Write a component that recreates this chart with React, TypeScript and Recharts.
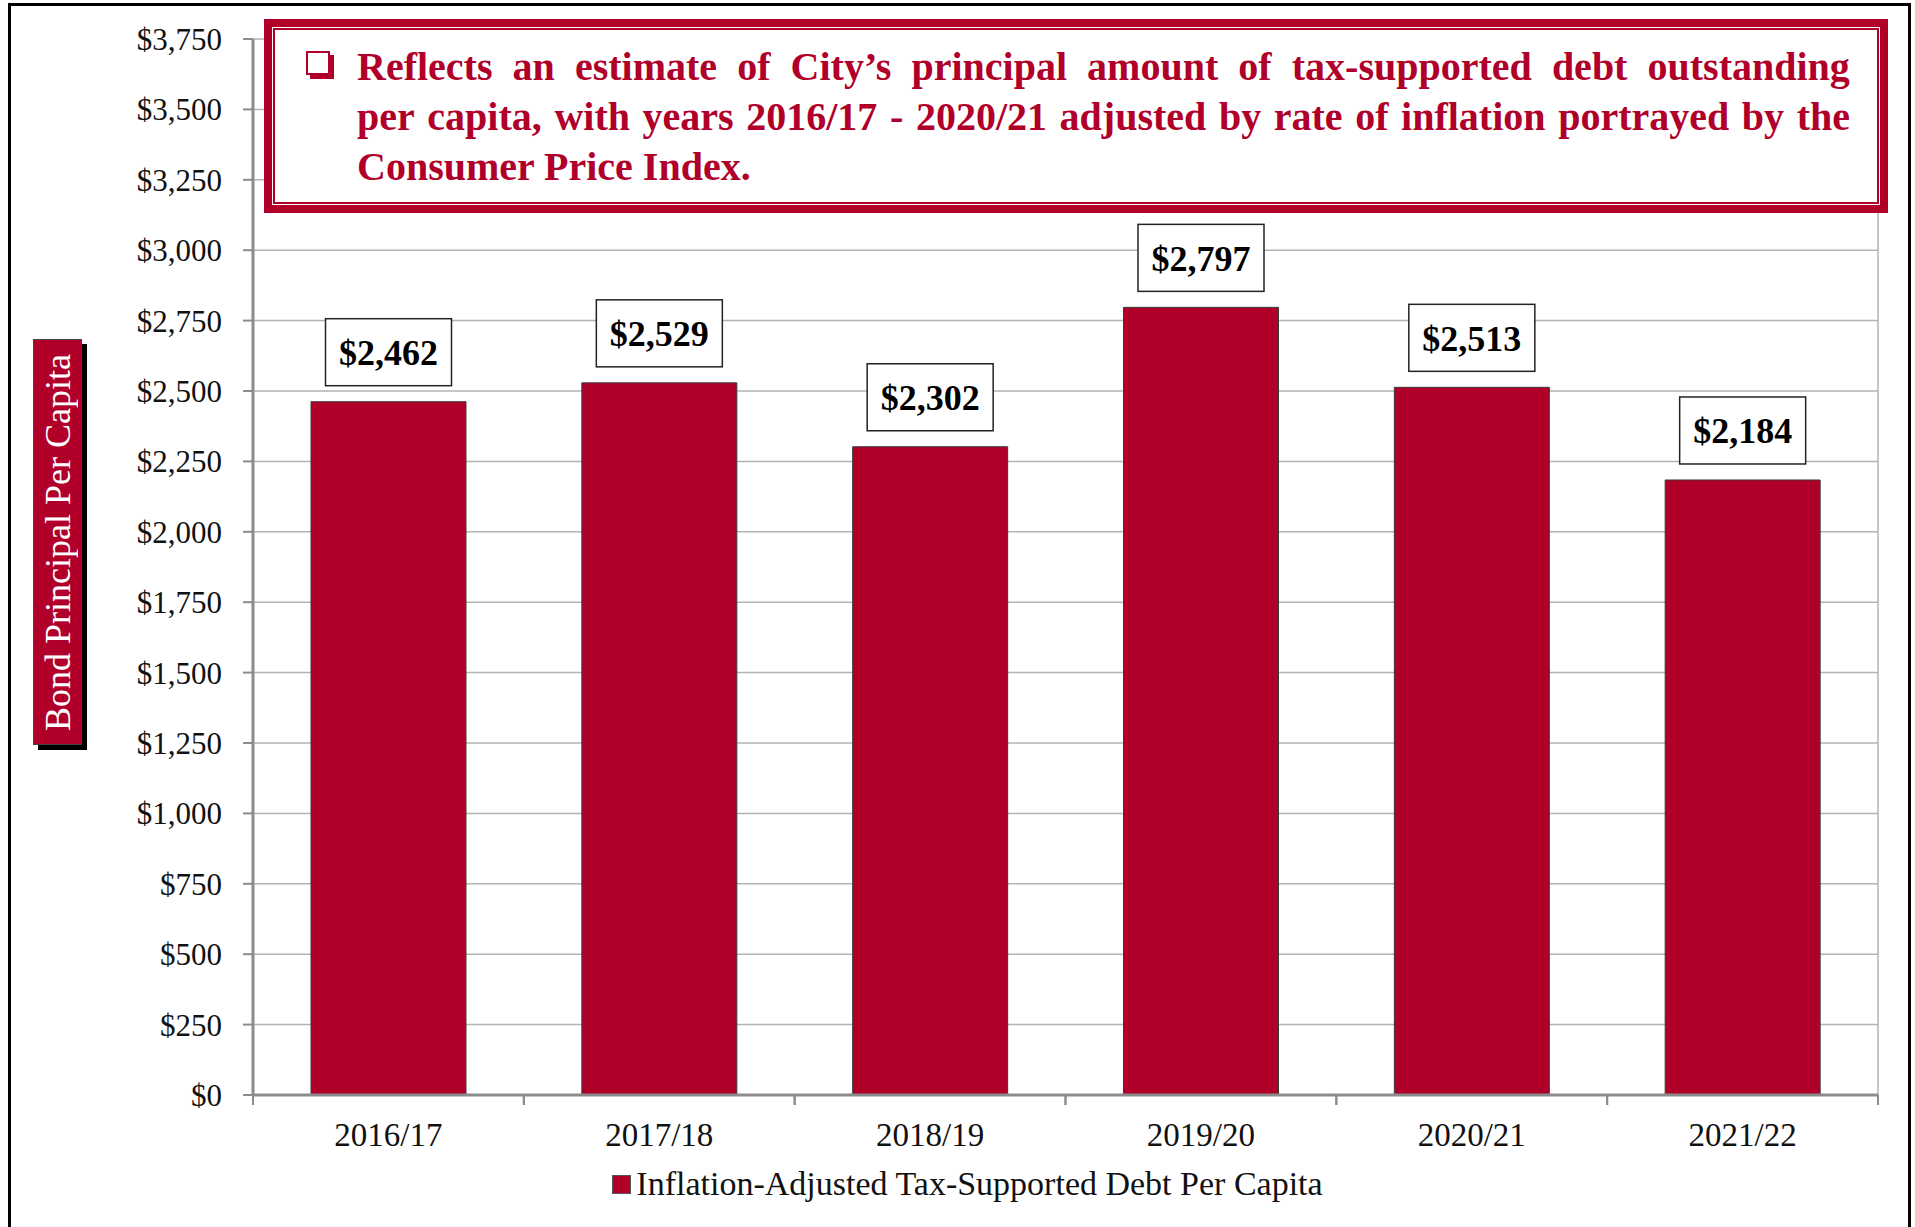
import { Bar, BarChart, CartesianGrid, LabelList, Legend, XAxis, YAxis } from "recharts";

const years = ["2016/17", "2017/18", "2018/19", "2019/20", "2020/21", "2021/22"];
const debtPerCapita = [2462, 2529, 2302, 2797, 2513, 2184];
const yTicks = [0, 250, 500, 750, 1000, 1250, 1500, 1750, 2000, 2250, 2500, 2750, 3000, 3250, 3500, 3750];
const seriesName = "Inflation-Adjusted Tax-Supported Debt Per Capita";
const axisTitle = "Bond Principal Per Capita";
const noteLines = [
  "Reflects an estimate of City’s principal amount of tax-supported debt outstanding",
  "per capita, with years 2016/17 - 2020/21 adjusted by rate of inflation portrayed by the",
  "Consumer Price Index.",
];

const RED = "#B0002A";
const FONT = "'Liberation Serif', 'Times New Roman', serif";
const W = 1915;
const H = 1227;
const PLOT_LEFT = 253;
const PLOT_RIGHT = 1878;
const PLOT_TOP = 39;
const PLOT_BOTTOM = 1095;
const BAND = (PLOT_RIGHT - PLOT_LEFT) / years.length;

const data = years.map((year, i) => ({ year, value: debtPerCapita[i] }));

function YearTick({ x, payload }: any) {
  const half = BAND / 2;
  return (
    <g>
      <line x1={x - half} x2={x - half} y1={PLOT_BOTTOM} y2={PLOT_BOTTOM + 10} stroke="#8c8c8c" strokeWidth={2} />
      <line x1={x + half} x2={x + half} y1={PLOT_BOTTOM} y2={PLOT_BOTTOM + 10} stroke="#8c8c8c" strokeWidth={2} />
      <text x={x} y={1135} textAnchor="middle" dominantBaseline="central" fontSize={33} fill="#111" fontFamily={FONT}>
        {payload.value}
      </text>
    </g>
  );
}

function ValueBox(props: any) {
  const { x, y, width, value } = props;
  const cx = Number(x) + Number(width) / 2;
  const bw = 126;
  const bh = 67;
  const top = Number(y) - 16 - bh;
  return (
    <g>
      <rect x={cx - bw / 2} y={top} width={bw} height={bh} fill="#fff" stroke="#222" strokeWidth={1.5} />
      <text x={cx} y={top + bh / 2 + 1} textAnchor="middle" dominantBaseline="central" fontSize={36} fontWeight="bold" fill="#000" fontFamily={FONT}>
        {"$" + Number(value).toLocaleString("en-US")}
      </text>
    </g>
  );
}

function LegendBox() {
  return (
    <div style={{ display: "flex", justifyContent: "center", alignItems: "center", fontFamily: FONT, fontSize: 34, color: "#111" }}>
      <span style={{ width: 17, height: 17, background: RED, border: "1px solid #555", marginRight: 5 }} />
      <span>{seriesName}</span>
    </div>
  );
}

export default function App() {
  return (
    <div style={{ position: "absolute", left: 0, top: 0, width: W, height: H, overflow: "hidden", background: "#fff", fontFamily: FONT }}>
      <div style={{ position: "absolute", left: 8, top: 3, width: 1903, height: 1400, border: "3px solid #000", boxSizing: "border-box" }} />

      <div style={{ position: "absolute", left: 0, top: 0 }}>
        <BarChart width={W} height={H} data={data} margin={{ top: PLOT_TOP, right: W - PLOT_RIGHT, left: PLOT_LEFT - 100, bottom: H - PLOT_BOTTOM - 60 }}>
          <CartesianGrid vertical={true} horizontal={true} verticalPoints={[PLOT_RIGHT]} stroke="#b3b3b3" strokeWidth={1.5} />
          <XAxis
            dataKey="year"
            height={60}
            tickLine={false}
            tick={<YearTick />}
            axisLine={{ stroke: "#8c8c8c", strokeWidth: 3 }}
          />
          <YAxis
            width={100}
            domain={[0, 3750]}
            ticks={yTicks}
            interval={0}
            tickSize={10}
            tickMargin={21}
            tickFormatter={(v: number) => "$" + v.toLocaleString("en-US")}
            tick={{ fontSize: 31, fill: "#111", fontFamily: FONT }}
            tickLine={{ stroke: "#8c8c8c", strokeWidth: 2 }}
            axisLine={{ stroke: "#8c8c8c", strokeWidth: 3 }}
          />
          <Legend
            verticalAlign="middle"
            align="center"
            layout="horizontal"
            wrapperStyle={{ top: 1165, left: 10, width: W }}
            content={<LegendBox />}
          />
          <Bar dataKey="value" name={seriesName} fill={RED} stroke="#3a3a3a" strokeWidth={1} barSize={155} isAnimationActive={false}>
            <LabelList dataKey="value" content={<ValueBox />} />
          </Bar>
        </BarChart>
      </div>

      {/* note box */}
      <div style={{ position: "absolute", left: 264, top: 19, width: 1624, height: 194, border: `8px solid ${RED}`, boxSizing: "border-box", background: "#fff" }}>
        <div style={{ position: "absolute", left: 1, top: 1, right: 1, bottom: 1, border: `2px solid ${RED}` }} />
      </div>
      <div style={{ position: "absolute", left: 306, top: 51, width: 24, height: 24, border: `2px solid ${RED}`, boxShadow: `4px 4px 0 ${RED}`, boxSizing: "border-box", background: "#fff" }} />
      <div style={{ position: "absolute", left: 357, top: 42, width: 1493, color: RED, fontWeight: "bold", fontSize: 40, lineHeight: "50px", fontFamily: FONT }}>
        {noteLines.map((line, i) =>
          i < noteLines.length - 1 ? (
            <div key={i} style={{ display: "flex", justifyContent: "space-between", whiteSpace: "nowrap" }}>
              {line.split(" ").map((w, j) => (
                <span key={j}>{w}</span>
              ))}
            </div>
          ) : (
            <div key={i} style={{ whiteSpace: "nowrap" }}>{line}</div>
          )
        )}
      </div>

      {/* vertical axis title */}
      <div
        style={{
          position: "absolute",
          left: 33,
          top: 339,
          width: 49,
          height: 406,
          background: RED,
          border: "1px solid #444",
          boxSizing: "border-box",
          boxShadow: "5px 5px 0 #000",
          display: "flex",
          alignItems: "center",
          justifyContent: "center",
        }}
      >
        <span style={{ writingMode: "vertical-rl", transform: "rotate(180deg)", color: "#fff", fontSize: 36, whiteSpace: "nowrap", fontFamily: FONT }}>
          {axisTitle}
        </span>
      </div>
    </div>
  );
}
